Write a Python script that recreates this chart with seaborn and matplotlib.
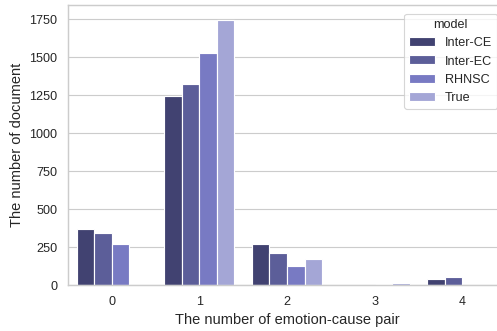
import pandas as pd
import matplotlib
matplotlib.use("Agg")
import matplotlib.pyplot as plt
import seaborn as sns

# ─── Data ────────────────────────────────────────────────────────────────────
pair_counts = [0, 1, 2, 3, 4]
models = ["Inter-CE", "Inter-EC", "RHNSC", "True"]
inter_ce = [365, 1245, 272, 0, 37]
inter_ec = [342, 1318, 208, 0, 55]
rhnsc = [270, 1522, 127, 9, 0]
true_vals = [0, 1744, 171, 15, 0]

rows = []
for name, vals in zip(models, [inter_ce, inter_ec, rhnsc, true_vals]):
    for k, v in zip(pair_counts, vals):
        rows.append({"pairs": k, "count": v, "model": name})
df = pd.DataFrame(rows)

# ─── Plot ────────────────────────────────────────────────────────────────────
sns.set_theme(style="whitegrid")
plt.rcParams["font.family"] = ["Liberation Sans", "DejaVu Sans"]
fig = plt.figure(figsize=(6, 4), dpi=497 / 6)
ax = fig.add_axes([68 / 497, 46 / 331, 438 / 497, 280 / 331])
sns.barplot(data=df, x="pairs", y="count", hue="model", palette="tab20b",
            hue_order=models, ax=ax)
ax.set_ylim(0, 1842)
ax.set_yticks([0, 250, 500, 750, 1000, 1250, 1500, 1750])
ax.tick_params(labelsize=11)
ax.set_xlabel("The number of emotion-cause pair", fontsize=12.7)
ax.set_ylabel("The number of document", fontsize=12.7)
ax.legend(title="model", loc="upper right", fontsize=11, title_fontsize=11,
          borderaxespad=0.7)
fig.savefig("out.png", dpi=497 / 6)
